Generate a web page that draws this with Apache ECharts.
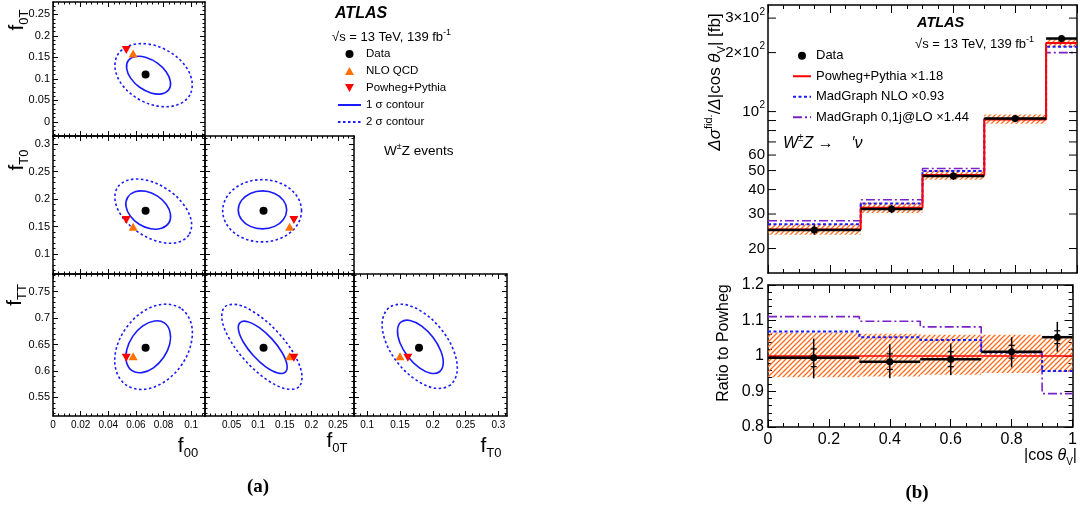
<!DOCTYPE html>
<html>
<head>
<meta charset="utf-8">
<title>WZ polarisation</title>
<script src="https://cdn.jsdelivr.net/npm/echarts@6.0.0/dist/echarts.min.js"></script>
<style>
  html, body { margin: 0; background: #fff; }
  #chart { width: 1080px; height: 516px; }
</style>
</head>
<body>
<div id="chart"></div>
<script>
// ---------- (a) helicity fractions: f00, f0T, fT0, fTT ----------
const fracData   = [0.067, 0.110, 0.179, 0.644];
const fracNloQcd = [0.058, 0.159, 0.150, 0.628];
const fracPowheg = [0.053, 0.167, 0.162, 0.625];

// tick labels of (a)
const f00Ticks  = [0, 0.02, 0.04, 0.06, 0.08, 0.1];
const f0TxTicks = [0.05, 0.1, 0.15, 0.2, 0.25];
const fT0xTicks = [0.1, 0.15, 0.2, 0.25, 0.3];
const f0TyTicks = [0, 0.05, 0.1, 0.15, 0.2, 0.25];
const fT0yTicks = [0.1, 0.15, 0.2, 0.25, 0.3];
const fTTyTicks = [0.55, 0.6, 0.65, 0.7, 0.75];

// contour points, [x, y], going round each contour
const sig1_f00_f0T = [[0.0838,0.0747],[0.0786,0.0651],[0.0709,0.0672],[0.0627,0.0805],[0.0563,0.1012],[0.0533,0.1240],[0.0545,0.1426],[0.0597,0.1521],[0.0674,0.1500],[0.0756,0.1367],[0.0820,0.1160],[0.0850,0.0933]];
const sig2_f00_f0T = [[0.0991,0.0628],[0.0906,0.0402],[0.0775,0.0358],[0.0630,0.0509],[0.0512,0.0814],[0.0452,0.1193],[0.0465,0.1544],[0.0549,0.1770],[0.0681,0.1814],[0.0825,0.1663],[0.0944,0.1358],[0.1004,0.0979]];
const sig1_f00_fT0 = [[0.0838,0.1567],[0.0785,0.1471],[0.0707,0.1462],[0.0624,0.1545],[0.0559,0.1696],[0.0528,0.1876],[0.0541,0.2036],[0.0593,0.2135],[0.0671,0.2144],[0.0754,0.2060],[0.0819,0.1907],[0.0850,0.1727]];
const sig2_f00_fT0 = [[0.0983,0.1349],[0.0896,0.1211],[0.0764,0.1229],[0.0621,0.1395],[0.0505,0.1665],[0.0450,0.1967],[0.0468,0.2220],[0.0555,0.2356],[0.0687,0.2340],[0.0830,0.2175],[0.0945,0.1904],[0.1001,0.1602]];
const sig1_f0T_fT0 = [[0.1535,0.1806],[0.1474,0.1979],[0.1308,0.2106],[0.1080,0.2152],[0.0852,0.2106],[0.0686,0.1979],[0.0625,0.1806],[0.0686,0.1633],[0.0852,0.1506],[0.1080,0.1460],[0.1308,0.1506],[0.1474,0.1633]];
const sig2_f0T_fT0 = [[0.1814,0.1790],[0.1715,0.2073],[0.1444,0.2280],[0.1073,0.2356],[0.0702,0.2280],[0.0431,0.2073],[0.0332,0.1790],[0.0431,0.1507],[0.0702,0.1300],[0.1073,0.1224],[0.1444,0.1300],[0.1715,0.1507]];
const sig1_f00_fTT = [[0.0806,0.6906],[0.0846,0.6745],[0.0845,0.6509],[0.0801,0.6258],[0.0727,0.6059],[0.0644,0.5968],[0.0572,0.6006],[0.0532,0.6164],[0.0534,0.6402],[0.0577,0.6653],[0.0650,0.6851],[0.0735,0.6943]];
const sig2_f00_fTT = [[0.0931,0.7170],[0.1001,0.6887],[0.0997,0.6489],[0.0922,0.6083],[0.0794,0.5775],[0.0649,0.5651],[0.0525,0.5742],[0.0455,0.6025],[0.0458,0.6421],[0.0534,0.6828],[0.0661,0.7136],[0.0806,0.7260]];
const sig1_f0T_fTT = [[0.1510,0.5979],[0.1368,0.5962],[0.1148,0.6074],[0.0912,0.6287],[0.0722,0.6542],[0.0630,0.6770],[0.0659,0.6913],[0.0803,0.6930],[0.1021,0.6817],[0.1257,0.6606],[0.1448,0.6349],[0.1540,0.6121]];
const sig2_f0T_fTT = [[0.1765,0.5700],[0.1523,0.5662],[0.1159,0.5838],[0.0773,0.6179],[0.0465,0.6594],[0.0319,0.6972],[0.0373,0.7211],[0.0616,0.7249],[0.0979,0.7072],[0.1366,0.6732],[0.1674,0.6317],[0.1820,0.5940]];
const sig1_fT0_fTT = [[0.2102,0.5985],[0.1968,0.5958],[0.1791,0.6064],[0.1620,0.6274],[0.1499,0.6534],[0.1463,0.6772],[0.1519,0.6925],[0.1653,0.6953],[0.1831,0.6847],[0.2002,0.6636],[0.2122,0.6377],[0.2159,0.6140]];
const sig2_fT0_fTT = [[0.2270,0.5738],[0.2043,0.5674],[0.1753,0.5823],[0.1473,0.6142],[0.1282,0.6549],[0.1231,0.6932],[0.1331,0.7192],[0.1557,0.7257],[0.1849,0.7108],[0.2128,0.6787],[0.2319,0.6381],[0.2371,0.5996]];

// ---------- (b) |cos theta_V| distribution ----------
const binEdges     = [0, 0.3, 0.5, 0.7, 0.9, 1];
const binCenters   = [0.15, 0.4, 0.6, 0.8, 0.95];
const dataXsec     = [24.9, 31.8, 46.9, 92.1, 236];
const dataXsecErr  = [1.4, 1.5, 2.1, 3.9, 10];
const powhegXsec   = [25.0, 32.3, 47.4, 91.0, 224];
const powhegBandLo = [23.5, 30.4, 44.9, 86.6, 214];
const powhegBandHi = [26.6, 34.3, 50.2, 96.5, 236];
const mgNloXsec    = [26.6, 34.0, 49.8, 91.6, 214];
const mgLoXsec     = [27.7, 35.5, 51.2, 92.1, 200];

const dataRatio    = [0.995, 0.984, 0.991, 1.012, 1.053];
const dataRatioHi  = [1.049, 1.033, 1.035, 1.053, 1.096];
const dataRatioLo  = [0.937, 0.937, 0.946, 0.968, 1.012];
const dataStatHi   = [1.020, 1.006, 1.012, 1.030, 1.071];
const dataStatLo   = [0.970, 0.962, 0.970, 0.994, 1.035];
const powhegRatio  = [1, 1, 1, 1, 1];
const bandRatioLo  = [0.940, 0.942, 0.947, 0.952, 0.955];
const bandRatioHi  = [1.066, 1.063, 1.060, 1.060, 1.050];
const mgNloRatio   = [1.069, 1.053, 1.045, 1.010, 0.958];
const mgLoRatio    = [1.111, 1.098, 1.082, 1.012, 0.894];

const cosTicks      = [0, 0.2, 0.4, 0.6, 0.8, 1];
const ratioTicks    = [0.8, 0.9, 1, 1.1, 1.2];
const logTicks      = [20, 30, 40, 50, 60, 70, 80, 90, 100, 200, 300];
const logLabelVals  = [20, 30, 40, 50, 60, 100, 200, 300];
const logLabelMain  = ['20', '30', '40', '50', '60', '10', '2×10', '3×10'];
const logLabelSup   = ['', '', '', '', '', '2', '2', '2'];

// ---------- styling ----------
const FONT = '"Liberation Sans", Arial, Helvetica, sans-serif';
const SERIF = '"Liberation Serif", "Times New Roman", serif';
const BLUE = '#1a1aff', RED = '#ff0000', ORANGE = '#ff7000', PURPLE = '#7a22c8';

// orange "///" hatch
const hatchCanvas = document.createElement('canvas');
hatchCanvas.width = hatchCanvas.height = 5;
(function () {
  const g = hatchCanvas.getContext('2d');
  g.strokeStyle = '#ff6d1a';
  g.lineWidth = 1.3;
  g.beginPath();
  g.moveTo(0, 5); g.lineTo(5, 0);
  g.moveTo(-2.5, 2.5); g.lineTo(2.5, -2.5);
  g.moveTo(2.5, 7.5); g.lineTo(7.5, 2.5);
  g.stroke();
})();
const HATCH = { image: hatchCanvas, repeat: 'repeat' };

const grids = [], xAxes = [], yAxes = [], series = [];

function r6(v) { return Math.round(v * 1e6) / 1e6; }
function minorsOf(cfg) {
  const out = [];
  for (let k = Math.ceil(cfg.min / cfg.minorStep - 1e-9); k * cfg.minorStep <= cfg.max + 1e-9; k++) {
    const v = r6(k * cfg.minorStep);
    if (!cfg.majors.some(m => Math.abs(m - v) < cfg.minorStep / 10)) out.push(v);
  }
  return out;
}

// one side of a frame: a major axis (line, ticks, labels) and a minor-tick axis on top of it
function addAxes(list, gi, pos, cfg, o) {
  const base = { type: 'value', gridIndex: gi, position: pos, min: cfg.min, max: cfg.max,
    splitLine: { show: false }, minorTick: { show: false } };
  const lab = { show: !!o.label, customValues: cfg.majors, color: '#000', fontFamily: FONT,
    fontSize: o.fontSize || 10, margin: o.margin || 4 };
  list.push(Object.assign({}, base, {
    axisLine: { show: true, onZero: false, lineStyle: { color: '#000', width: 1.5 } },
    axisTick: { show: true, inside: true, length: o.major, customValues: cfg.majors, lineStyle: { color: '#000', width: 1 } },
    axisLabel: lab
  }));
  const idx = list.length - 1;
  list.push(Object.assign({}, base, {
    axisLine: { show: false, onZero: false },
    axisTick: { show: true, inside: true, length: o.minor, customValues: minorsOf(cfg), lineStyle: { color: '#000', width: 1 } },
    axisLabel: { show: false }
  }));
  return idx;
}

// ---------- (a) ----------
const colCfg = [
  { min: 0, max: 0.11, majors: f00Ticks, minorStep: 0.004 },
  { min: 0, max: 0.28, majors: f0TxTicks, minorStep: 0.01 },
  { min: 0.08, max: 0.313, majors: fT0xTicks, minorStep: 0.01 }
];
const rowCfg = [
  { min: -0.033, max: 0.279, majors: f0TyTicks, minorStep: 0.01 },
  { min: 0.064, max: 0.315, majors: fT0yTicks, minorStep: 0.01 },
  { min: 0.515, max: 0.783, majors: fTTyTicks, minorStep: 0.01 }
];
const colBox = [[53, 152], [205, 149], [354, 153]];
const rowBox = [[2, 134], [136, 138], [274, 142]];
const cells = [
  { c: 0, r: 0, vx: 0, vy: 1, s1: sig1_f00_f0T, s2: sig2_f00_f0T },
  { c: 0, r: 1, vx: 0, vy: 2, s1: sig1_f00_fT0, s2: sig2_f00_fT0 },
  { c: 1, r: 1, vx: 1, vy: 2, s1: sig1_f0T_fT0, s2: sig2_f0T_fT0 },
  { c: 0, r: 2, vx: 0, vy: 3, s1: sig1_f00_fTT, s2: sig2_f00_fTT },
  { c: 1, r: 2, vx: 1, vy: 3, s1: sig1_f0T_fTT, s2: sig2_f0T_fTT },
  { c: 2, r: 2, vx: 2, vy: 3, s1: sig1_fT0_fTT, s2: sig2_fT0_fTT }
];

function contour(name, pts, xi, yi, dotted) {
  return {
    type: 'custom', name, xAxisIndex: xi, yAxisIndex: yi, silent: true, z: 2, data: pts,
    renderItem: function (params, api) {
      if (params.dataIndex !== 0) return;
      return {
        type: 'polygon',
        shape: { points: pts.map(p => api.coord(p)), smooth: 0.35 },
        style: { fill: 'none', stroke: BLUE, lineWidth: 1.6, lineDash: dotted ? [2.5, 2.5] : null }
      };
    }
  };
}
function marker(name, pt, xi, yi, symbol, size, color) {
  return { type: 'scatter', name, xAxisIndex: xi, yAxisIndex: yi, data: [pt], symbol, symbolSize: size,
    itemStyle: { color, opacity: 1 }, z: 5, silent: true };
}
const TRI_UP = 'path://M5,0 L10,9 L0,9 Z';
const TRI_DN = 'path://M0,0 L10,0 L5,9 Z';

let firstX = 0, firstY = 0;
cells.forEach((cell, n) => {
  const gi = grids.length;
  grids.push({ left: colBox[cell.c][0], width: colBox[cell.c][1], top: rowBox[cell.r][0], height: rowBox[cell.r][1] });
  const small = { major: 5, minor: 2.5 };
  const xi = addAxes(xAxes, gi, 'bottom', colCfg[cell.c], Object.assign({ label: cell.r === 2, fontSize: 10, margin: 4 }, small));
  addAxes(xAxes, gi, 'top', colCfg[cell.c], small);
  const yi = addAxes(yAxes, gi, 'left', rowCfg[cell.r], Object.assign({ label: cell.c === 0, fontSize: 11, margin: 3 }, small));
  addAxes(yAxes, gi, 'right', rowCfg[cell.r], small);
  if (n === 0) { firstX = xi; firstY = yi; }
  series.push(contour('c2', cell.s2, xi, yi, true));
  series.push(contour('c1', cell.s1, xi, yi, false));
  series.push(marker('Data', [fracData[cell.vx], fracData[cell.vy]], xi, yi, 'circle', 8, '#000'));
  series.push(marker('NLO QCD', [fracNloQcd[cell.vx], fracNloQcd[cell.vy]], xi, yi, TRI_UP, [9, 8], ORANGE));
  series.push(marker('Powheg+Pythia', [fracPowheg[cell.vx], fracPowheg[cell.vy]], xi, yi, TRI_DN, [9, 8], RED));
});
// legend-only entries for the contour styles
series.push({ type: 'line', name: '1 σ contour', xAxisIndex: firstX, yAxisIndex: firstY, data: [], symbol: 'none',
  itemStyle: { color: BLUE }, lineStyle: { color: BLUE, width: 2, type: 'solid' } });
series.push({ type: 'line', name: '2 σ contour', xAxisIndex: firstX, yAxisIndex: firstY, data: [], symbol: 'none',
  itemStyle: { color: BLUE }, lineStyle: { color: BLUE, width: 2, type: [2.5, 2.5] } });

// ---------- (b) ----------
const big = { major: 8, minor: 4 };
const cosCfg = { min: 0, max: 1, majors: cosTicks, minorStep: 0.05 };
const ratCfg = { min: 0.8, max: 1.2, majors: ratioTicks, minorStep: 0.02 };

const gTop = grids.length;
grids.push({ left: 768, top: 5, width: 309, height: 268 });
const xTop = addAxes(xAxes, gTop, 'bottom', cosCfg, big);
addAxes(xAxes, gTop, 'top', cosCfg, big);
const logBase = { type: 'log', logBase: 10, gridIndex: gTop, min: 15, max: 350,
  axisLine: { show: true, onZero: false, lineStyle: { color: '#000', width: 1.5 } },
  axisTick: { show: false }, axisLabel: { show: false }, splitLine: { show: false }, minorTick: { show: false } };
yAxes.push(Object.assign({ position: 'left' }, logBase));
const yTop = yAxes.length - 1;
yAxes.push(Object.assign({ position: 'right' }, logBase));

const gRat = grids.length;
grids.push({ left: 768, top: 285, width: 309, height: 142 });
const xRat = addAxes(xAxes, gRat, 'bottom', cosCfg, Object.assign({ label: true, fontSize: 16, margin: 5 }, big));
addAxes(xAxes, gRat, 'top', cosCfg, big);
const yRat = addAxes(yAxes, gRat, 'left', ratCfg, Object.assign({ label: true, fontSize: 16, margin: 4 }, big));
addAxes(yAxes, gRat, 'right', ratCfg, big);

function band(lo, hi, xi, yi) {
  return {
    type: 'custom', xAxisIndex: xi, yAxisIndex: yi, silent: true, z: 1,
    encode: { x: [0, 1], y: [2, 3] },
    data: lo.map((v, i) => [binEdges[i], binEdges[i + 1], v, hi[i]]),
    renderItem: function (params, api) {
      const a = api.coord([api.value(0), api.value(3)]);
      const b = api.coord([api.value(1), api.value(2)]);
      return { type: 'rect', shape: { x: a[0], y: a[1], width: b[0] - a[0], height: b[1] - a[1] },
        style: { fill: HATCH, stroke: null } };
    }
  };
}
function steps(name, vals, xi, yi, color, type, width) {
  return { type: 'line', name, xAxisIndex: xi, yAxisIndex: yi, step: 'end', symbol: 'none', silent: true, z: 3,
    data: binEdges.map((e, i) => [e, vals[Math.min(i, vals.length - 1)]]),
    itemStyle: { color }, lineStyle: { color, width, type } };
}
function dataBars(vals, lo, hi, stLo, stHi, xi, yi) {
  return {
    type: 'custom', xAxisIndex: xi, yAxisIndex: yi, silent: true, z: 4,
    encode: { x: 0, y: 1 },
    data: vals.map((v, i) => [binCenters[i], v, binEdges[i], binEdges[i + 1], lo[i], hi[i],
      stLo ? stLo[i] : v, stHi ? stHi[i] : v]),
    renderItem: function (params, api) {
      const x = api.value(0), y = api.value(1);
      const a = api.coord([api.value(2), y]), b = api.coord([api.value(3), y]);
      const h = api.coord([x, api.value(5)]), l = api.coord([x, api.value(4)]);
      const children = [
        { type: 'line', shape: { x1: a[0], y1: a[1], x2: b[0], y2: b[1] }, style: { stroke: '#000', lineWidth: 2.5 } },
        { type: 'line', shape: { x1: h[0], y1: h[1], x2: l[0], y2: l[1] }, style: { stroke: '#000', lineWidth: 1.5 } }
      ];
      if (stLo) {
        [api.value(6), api.value(7)].forEach(s => {
          const p = api.coord([x, s]);
          children.push({ type: 'line', shape: { x1: p[0] - 3, y1: p[1], x2: p[0] + 3, y2: p[1] }, style: { stroke: '#000', lineWidth: 1.2 } });
        });
      }
      return { type: 'group', children };
    }
  };
}
function points(vals, xi, yi, size) {
  return { type: 'scatter', name: 'Data', xAxisIndex: xi, yAxisIndex: yi, symbol: 'circle', symbolSize: size,
    itemStyle: { color: '#000', opacity: 1 }, z: 5, silent: true, data: vals.map((v, i) => [binCenters[i], v]) };
}

const nPow = 'Powheg+Pythia ×1.18', nNlo = 'MadGraph NLO ×0.93', nLo = 'MadGraph 0,1j@LO ×1.44';
const DASH_DOT = [9, 3, 2, 3];

series.push(band(powhegBandLo, powhegBandHi, xTop, yTop));
series.push(steps(nLo, mgLoXsec, xTop, yTop, PURPLE, DASH_DOT, 1.6));
series.push(steps(nNlo, mgNloXsec, xTop, yTop, BLUE, [3, 2.5], 2));
series.push(steps(nPow, powhegXsec, xTop, yTop, RED, 'solid', 2));
series.push(dataBars(dataXsec, dataXsec.map((v, i) => v - dataXsecErr[i]), dataXsec.map((v, i) => v + dataXsecErr[i]), null, null, xTop, yTop));
series.push(points(dataXsec, xTop, yTop, 7));

// log-axis ticks and labels, placed through the log scale
series.push({
  type: 'custom', xAxisIndex: xTop, yAxisIndex: yTop, silent: true, z: 6,
  encode: { x: 0, y: 1 },
  data: logTicks.map(v => [0, v]),
  renderItem: function (params, api) {
    const v = api.value(1);
    const L = api.coord([0, v]), R = api.coord([1, v]);
    const children = [
      { type: 'line', shape: { x1: L[0], y1: L[1], x2: L[0] + 8, y2: L[1] }, style: { stroke: '#000', lineWidth: 1 } },
      { type: 'line', shape: { x1: R[0], y1: R[1], x2: R[0] - 8, y2: R[1] }, style: { stroke: '#000', lineWidth: 1 } }
    ];
    const k = logLabelVals.indexOf(v);
    if (k >= 0) {
      const sup = logLabelSup[k];
      const supW = sup ? 6 : 0;
      children.push({ type: 'text', x: L[0] - 3 - supW, y: L[1],
        style: { text: logLabelMain[k], fontFamily: FONT, fontSize: 15, fill: '#000', align: 'right', verticalAlign: 'middle' } });
      if (sup) children.push({ type: 'text', x: L[0] - 3, y: L[1] - 6,
        style: { text: sup, fontFamily: FONT, fontSize: 10, fill: '#000', align: 'right', verticalAlign: 'middle' } });
    }
    return { type: 'group', children };
  }
});

series.push(band(bandRatioLo, bandRatioHi, xRat, yRat));
series.push(steps(nLo, mgLoRatio, xRat, yRat, PURPLE, DASH_DOT, 1.6));
series.push(steps(nNlo, mgNloRatio, xRat, yRat, BLUE, [3, 2.5], 2));
series.push(steps(nPow, powhegRatio, xRat, yRat, RED, 'solid', 1.5));
series.push(dataBars(dataRatio, dataRatioLo, dataRatioHi, dataStatLo, dataStatHi, xRat, yRat));
series.push(points(dataRatio, xRat, yRat, 7));

// ---------- texts ----------
function txt(x, y, text, size, extra) {
  return { type: 'text', x, y, silent: true, z: 10,
    style: Object.assign({ text, fontFamily: FONT, fontSize: size, fill: '#000', align: 'left', verticalAlign: 'middle' }, extra || {}) };
}
function supR(size) { return { fontFamily: FONT, fontSize: size, lineHeight: size, verticalAlign: 'top', fill: '#000' }; }
function subR(size) { return { fontFamily: FONT, fontSize: size, lineHeight: size, verticalAlign: 'bottom', fill: '#000' }; }
function fTitle(x, y, sub, rot) {
  const t = txt(x, y, '{f|f}{s|' + sub + '}', 21, { align: 'center', lineHeight: 28,
    rich: { f: { fontFamily: FONT, fontSize: 21, lineHeight: 28, fill: '#000' }, s: subR(13) } });
  if (rot) t.rotation = Math.PI / 2;
  return t;
}

const texts = [
  txt(335, 14, 'ATLAS', 16, { fontWeight: 'bold', fontStyle: 'italic' }),
  txt(332, 37, '√s = 13 TeV, 139 fb{sup|-1}', 13, { lineHeight: 18, rich: { sup: supR(9) } }),
  txt(384, 151, 'W{sup|±}Z events', 13.5, { lineHeight: 18, rich: { sup: supR(9) } }),
  fTitle(188, 446, '00', false),
  fTitle(337, 441, '0T', false),
  fTitle(491, 446, 'T0', false),
  fTitle(17, 20, '0T', true),
  fTitle(17, 160, 'T0', true),
  fTitle(15, 295, 'TT', true),
  txt(258, 487, '(a)', 19, { fontFamily: SERIF, fontWeight: 'bold', align: 'center' }),
  txt(917, 493, '(b)', 19, { fontFamily: SERIF, fontWeight: 'bold', align: 'center' }),
  txt(917, 23, 'ATLAS', 14.5, { fontWeight: 'bold', fontStyle: 'italic' }),
  txt(915, 44, '√s = 13 TeV, 139 fb{sup|-1}', 13, { lineHeight: 18, rich: { sup: supR(9) } }),
  txt(783, 144, '{i|W}{sup|±}{i|Z →    ′ν}', 16, { lineHeight: 22,
    rich: { i: { fontFamily: FONT, fontSize: 16, fontStyle: 'italic', lineHeight: 22, fill: '#000' }, sup: supR(10) } }),
  Object.assign(txt(715, 82, '{i|Δσ}{sup|fid.}{n|/}{i|Δ}{n||cos }{i|θ}{sub|V}{n|| [fb]}', 17, { align: 'center', lineHeight: 24,
    rich: { i: { fontFamily: FONT, fontSize: 17, fontStyle: 'italic', lineHeight: 24, fill: '#000' },
            n: { fontFamily: FONT, fontSize: 17, lineHeight: 24, fill: '#000' },
            sup: supR(11), sub: subR(11) } }), { rotation: Math.PI / 2 }),
  Object.assign(txt(724, 343, 'Ratio to Powheg', 16, { align: 'center' }), { rotation: Math.PI / 2 }),
  txt(1077, 456, '{n||cos }{i|θ}{sub|V}{n||}', 16, { align: 'right', lineHeight: 22,
    rich: { i: { fontFamily: FONT, fontSize: 16, fontStyle: 'italic', lineHeight: 22, fill: '#000' },
            n: { fontFamily: FONT, fontSize: 16, lineHeight: 22, fill: '#000' }, sub: subR(10) } })
];

const noSym = { opacity: 0 };
const chart = echarts.init(document.getElementById('chart'));
chart.setOption({
  animation: false,
  backgroundColor: '#fff',
  grid: grids,
  xAxis: xAxes,
  yAxis: yAxes,
  legend: [
    { data: ['Data', 'NLO QCD', 'Powheg+Pythia', { name: '1 σ contour', itemStyle: noSym }, { name: '2 σ contour', itemStyle: noSym }],
      orient: 'vertical', left: 332, top: 42, itemWidth: 23, itemHeight: 8, itemGap: 3, selectedMode: false,
      textStyle: { fontFamily: FONT, fontSize: 11.5, lineHeight: 14, color: '#000' } },
    { data: ['Data', { name: nPow, itemStyle: noSym }, { name: nNlo, itemStyle: noSym }, { name: nLo, itemStyle: noSym }],
      orient: 'vertical', left: 787, top: 43, itemWidth: 18, itemHeight: 8, itemGap: 5, selectedMode: false,
      textStyle: { fontFamily: FONT, fontSize: 13, lineHeight: 15.5, color: '#000' } }
  ],
  graphic: texts,
  series: series
});
</script>
</body>
</html>
